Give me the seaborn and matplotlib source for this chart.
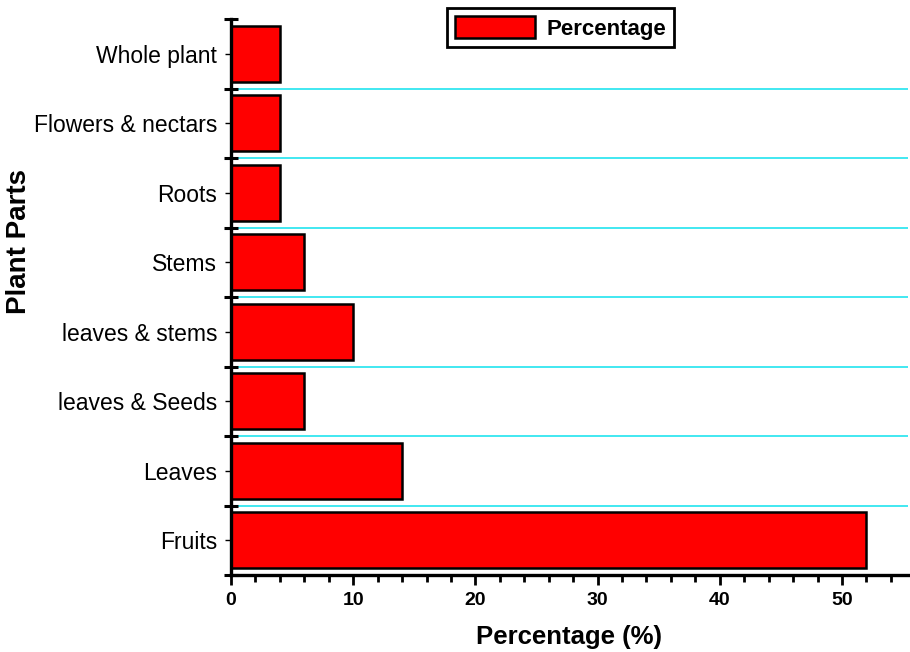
import matplotlib
matplotlib.use("Agg")
import matplotlib.pyplot as plt
import seaborn as sns
import pandas as pd
import numpy as np
from matplotlib.ticker import MultipleLocator, FixedLocator

# plant parts, top to bottom
parts = ["Whole plant", "Flowers & nectars", "Roots", "Stems",
         "leaves & stems", "leaves & Seeds", "Leaves", "Fruits"]
percent = [4, 4, 4, 6, 10, 6, 14, 52]

df = pd.DataFrame({"part": parts, "pct": percent})

sns.set_style("white")
plt.rcParams["font.family"] = ["Liberation Sans", "DejaVu Sans"]
plt.rcParams["text.color"] = "black"
plt.rcParams["axes.labelcolor"] = "black"
plt.rcParams["xtick.color"] = "black"
plt.rcParams["ytick.color"] = "black"

fig = plt.figure(figsize=(9.1, 6.52), dpi=100)
ax = fig.add_axes([231/910, 1-575/652, 677/910, 556/652])

sns.barplot(data=df, x="pct", y="part", order=parts, orient="h",
            color="#ff0000", edgecolor="black", linewidth=1.8,
            width=0.8, saturation=1, ax=ax, label="Percentage")

# cyan lines between categories
for b in np.arange(0.5, len(parts) - 1, 1):
    ax.axhline(b, color="#33e6f0", lw=1.3, zorder=0)

ax.set_xlim(0, 55.4)
ax.set_ylim(len(parts) - 0.5, -0.5)

ax.xaxis.set_major_locator(MultipleLocator(10))
ax.xaxis.set_minor_locator(MultipleLocator(2))
ax.tick_params(axis="x", which="both", bottom=True)
ax.tick_params(axis="x", which="major", direction="out", length=7, width=2,
               labelsize=14, pad=5)
ax.tick_params(axis="x", which="minor", direction="out", length=5, width=2)
for t in ax.get_xticklabels():
    t.set_fontweight("bold")

ax.yaxis.set_minor_locator(FixedLocator(np.arange(-0.5, len(parts), 1)))
ax.tick_params(axis="y", which="both", left=True)
ax.tick_params(axis="y", which="major", direction="out", length=4, width=1,
               labelsize=16.5, pad=6)
ax.tick_params(axis="y", which="minor", direction="inout", length=10, width=2.2)

for s in ["top", "right"]:
    ax.spines[s].set_visible(False)
for s in ["left", "bottom"]:
    ax.spines[s].set_linewidth(2.4)
    ax.spines[s].set_color("black")

ax.set_xlabel("Percentage (%)", fontsize=18.5, fontweight="bold", labelpad=12)
ax.set_ylabel("Plant Parts", fontsize=20, fontweight="bold")
ax.yaxis.set_label_coords(-0.294, 0.6)

leg = ax.legend(loc="upper center", bbox_to_anchor=(0.487, 1.04),
                prop={"weight": "bold", "size": 16}, fancybox=False,
                edgecolor="black", framealpha=1, handlelength=3.6,
                handleheight=1.2, borderpad=0.35, handletextpad=0.5)
leg.get_frame().set_linewidth(2)

fig.savefig("out.png", dpi=100)
